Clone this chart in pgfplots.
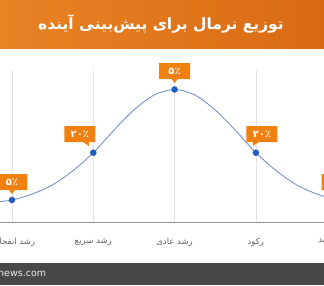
\documentclass[border=0pt]{standalone}
\usepackage{pgfplots}
\pgfplotsset{compat=1.18}
\usepackage{fontspec}
\setmainfont{DejaVu Sans}
\newfontfamily\arabicfont[Script=Arabic]{DejaVu Sans}
\usetikzlibrary{shapes.callouts}
\TeXXeTstate=1
\definecolor{titleL}{RGB}{233,131,36}
\definecolor{titleR}{RGB}{218,106,18}
\definecolor{callout}{RGB}{240,128,16}
\definecolor{curvec}{RGB}{118,148,205}
\definecolor{ptc}{RGB}{30,92,190}
\definecolor{footer}{RGB}{72,72,72}
\definecolor{ticktext}{RGB}{100,100,100}
\begin{document}
\begin{tikzpicture}[x=1pt,y=1pt]
\clip (0,0) rectangle (324,285);
\fill[white] (0,0) rectangle (324,285);
\shade[left color=titleL, right color=titleR] (0,237) rectangle (324,285);
\node[text=white, font=\arabicfont\bfseries\fontsize{15.5}{18}\selectfont] at (161,261) {\beginR توزیع نرمال برای پیش‌بینی آینده\endR};
\fill[footer] (0,0) rectangle (324,22);
\node[anchor=west, inner sep=0, text=white!85!gray, font=\fontsize{9.5}{11}\selectfont] at (-2,11) {news.com};
\begin{axis}[
  at={(0,63)}, anchor=south west, scale only axis,
  width=324pt, height=152pt,
  xmin=-0.1476, xmax=3.838, ymin=0, ymax=152,
  clip=false,
  axis x line*=bottom, axis y line=none,
  x axis line style={draw=gray!85, line width=0.9pt},
  xtick={0,1,2,3},
  xticklabels={{\beginR رشد انفجاری\endR},{\beginR رشد سریع\endR},{\beginR رشد عادی\endR},{رکود}},
  xticklabel style={font=\arabicfont\fontsize{8.5}{10}\selectfont, text=ticktext, anchor=center, yshift=-20pt},
  major tick length=0pt,
  xmajorgrids, grid style={draw=gray!22, line width=0.6pt},
]
\addplot[curvec, line width=0.9pt, smooth, no markers] coordinates {
(-0.25,19.6) (0,22) (0.25,28) (0.5,37.2) (0.75,51.3) (1,69.3) (1.25,91.5) (1.5,112) (1.75,127) (2,132.5)
(2.25,127) (2.5,112) (2.75,91.5) (3,69.3) (3.25,51.3) (3.5,37.2) (3.75,28) (4,22) (4.25,19.6)};
\addplot[only marks, mark=*, mark size=3pt, color=ptc] coordinates {(0,22) (1,69.3) (2,132.5) (3,69.3) (4,22)};
\tikzset{co/.style={rectangle callout, fill=callout, text=white, minimum width=31pt, minimum height=16pt, inner sep=0pt, callout pointer width=6pt, font=\arabicfont\bfseries\fontsize{10}{11}\selectfont}}
\node[co, callout absolute pointer={(axis cs:0,28)}] at (axis cs:0,40) {۵٪};
\node[co, callout absolute pointer={(axis cs:0.947,76)}] at (axis cs:0.835,88) {۲۰٪};
\node[co, callout absolute pointer={(axis cs:2,139)}] at (axis cs:2,151) {۵٪};
\node[co, callout absolute pointer={(axis cs:2.964,76)}] at (axis cs:3.075,88) {۲۰٪};
\node[co, callout absolute pointer={(axis cs:4,28)}] at (axis cs:4,40) {۵٪};
\node[font=\arabicfont\fontsize{8.5}{10}\selectfont, text=ticktext, yshift=-18pt] at (axis cs:4,0) {\beginR رکود شدید\endR};
\end{axis}
\end{tikzpicture}
\end{document}
